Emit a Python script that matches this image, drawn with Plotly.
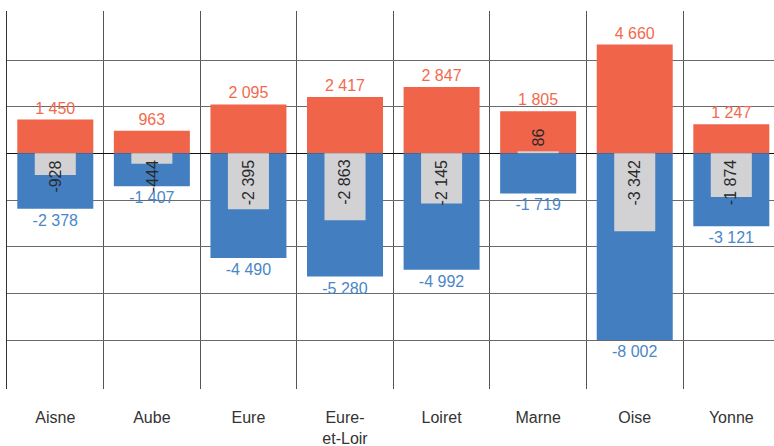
import plotly.graph_objects as go

categories = ["Aisne", "Aube", "Eure", "Eure-et-Loir", "Loiret", "Marne", "Oise", "Yonne"]
tick_labels = ["Aisne", "Aube", "Eure", "Eure-<br>et-Loir", "Loiret", "Marne", "Oise", "Yonne"]
positive = [1450, 963, 2095, 2417, 2847, 1805, 4660, 1247]
negative = [-2378, -1407, -4490, -5280, -4992, -1719, -8002, -3121]
net = [-928, -444, -2395, -2863, -2145, 86, -3342, -1874]


def fmt(v):
    s = f"{abs(v):,}".replace(",", " ")
    return ("-" if v < 0 else "") + s


FONT = "Liberation Sans, Arial, sans-serif"
ORANGE = "#F0654A"
BLUE = "#437EC1"
GRAY = "#D2D2D4"

fig = go.Figure()
fig.add_trace(go.Bar(
    x=categories, y=positive, width=0.787, marker=dict(color=ORANGE, line=dict(width=0)),
    text=[fmt(v) for v in positive], textposition="outside", cliponaxis=False,
    textfont=dict(family=FONT, size=16, color="#F26A4E"), hoverinfo="skip",
))
fig.add_trace(go.Bar(
    x=categories, y=negative, width=0.787, marker=dict(color=BLUE, line=dict(width=0)),
    text=[fmt(v) for v in negative], textposition="outside", cliponaxis=False,
    textfont=dict(family=FONT, size=16, color="#4A86C8"), hoverinfo="skip",
))
fig.add_trace(go.Bar(
    x=categories, y=net, width=0.425, marker=dict(color=GRAY, line=dict(width=0)),
    hoverinfo="skip",
))

for c, v in zip(categories, net):
    fig.add_annotation(
        x=c, y=0, text=fmt(v), textangle=-90, showarrow=False,
        yanchor="top" if v < 0 else "bottom", yshift=-5 if v < 0 else 5,
        font=dict(family=FONT, size=16, color="#2a2a2a"),
    )

fig.update_layout(
    width=774, height=446,
    margin=dict(l=7, r=0, t=11, b=57, autoexpand=False),
    barmode="overlay",
    showlegend=False,
    hovermode=False,
    plot_bgcolor="white", paper_bgcolor="white",
    xaxis=dict(
        type="category", range=[-0.5, 7.442], tickmode="array",
        tickvals=categories, ticktext=tick_labels, tickson="boundaries",
        showgrid=True, gridcolor="#555555", gridwidth=1, ticks="",
        showline=False, zeroline=False, ticklabelstandoff=17, automargin=False,
        tickfont=dict(family=FONT, size=16, color="#333333"),
    ),
    yaxis=dict(
        range=[-10100, 6100], tickmode="array",
        tickvals=[-8000, -6000, -4000, -2000, 0, 2000, 4000],
        showticklabels=False, showgrid=True, gridcolor="#6a6a6a", gridwidth=1,
        zeroline=True, zerolinecolor="#111111", zerolinewidth=1,
        showline=True, linecolor="#333333", linewidth=1,
        automargin=False,
    ),
)

fig.write_html("out.html", config={"displayModeBar": False},
               post_script="document.body.style.margin='0';")
